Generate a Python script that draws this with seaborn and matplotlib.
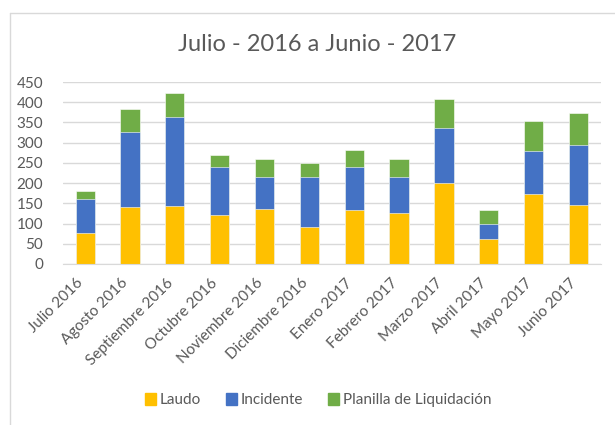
import numpy as np
import pandas as pd
import matplotlib
matplotlib.use("Agg")
import matplotlib.pyplot as plt
import matplotlib.transforms as mtransforms
import seaborn as sns
from matplotlib.lines import Line2D
from matplotlib.patches import Patch

meses = ["Julio 2016", "Agosto 2016", "Septiembre 2016", "Octubre 2016",
         "Noviembre 2016", "Diciembre 2016", "Enero 2017", "Febrero 2017",
         "Marzo 2017", "Abril 2017", "Mayo 2017", "Junio 2017"]
laudo = [76, 142, 144, 120, 135, 91, 134, 125, 200, 62, 174, 145]
incidente = [84, 184, 220, 119, 79, 124, 106, 90, 137, 38, 106, 150]
planilla = [20, 58, 60, 30, 45, 34, 41, 45, 71, 33, 73, 78]

df = pd.DataFrame({"mes": meses, "Laudo": laudo, "Incidente": incidente,
                   "Planilla de Liquidación": planilla})
df["c1"] = df["Laudo"]
df["c2"] = df["c1"] + df["Incidente"]
df["c3"] = df["c2"] + df["Planilla de Liquidación"]

sns.set_style("white")
plt.rcParams["font.family"] = ["Lato", "DejaVu Sans"]

c_laudo = "#FFC000"
c_inc = "#4472C4"
c_pla = "#70AD47"
txt = "#595959"

fig = plt.figure(figsize=(6.15, 4.25), dpi=100)
ax = fig.add_axes([0.102, 0.379, 0.875, 0.428])

# barras apiladas: se dibujan los acumulados de mayor a menor
for col, color in [("c3", c_pla), ("c2", c_inc), ("c1", c_laudo)]:
    sns.barplot(data=df, x="mes", y=col, color=color, width=0.43,
                edgecolor="white", linewidth=0.4, saturation=1, ax=ax)

ax.set_ylim(0, 450)
ax.set_yticks(np.arange(0, 451, 50))
ax.yaxis.grid(True, color="#D9D9D9", linewidth=1)
ax.set_axisbelow(True)
for s in ["top", "right", "left"]:
    ax.spines[s].set_visible(False)
ax.spines["bottom"].set_color("#D9D9D9")
ax.set_xlabel("")
ax.set_ylabel("")
ax.tick_params(axis="y", length=0, labelsize=11, labelcolor=txt, pad=14)
ax.tick_params(axis="x", length=0, labelsize=11, labelcolor=txt, pad=8)
ax.set_xticks(range(len(meses)))
ax.set_xticklabels(meses, rotation=45, ha="right", rotation_mode="anchor")
ax.set_xlim(-0.5, len(meses) - 0.5)
shift = mtransforms.ScaledTranslation(-9 / 100, -1 / 100, fig.dpi_scale_trans)
for lab in ax.get_xticklabels():
    lab.set_transform(lab.get_transform() + shift)

fig.text(0.515, 0.895, "Julio - 2016 a Junio - 2017", ha="center", va="center",
         fontsize=17, color=txt)

handles = [Patch(color=c_laudo), Patch(color=c_inc), Patch(color=c_pla)]
fig.legend(handles, ["Laudo", "Incidente", "Planilla de Liquidación"],
           loc="center", bbox_to_anchor=(0.517, 0.058), ncol=3, frameon=False,
           fontsize=11, labelcolor=txt, handlelength=0.75, handleheight=0.75,
           handletextpad=0.25, columnspacing=1.6)

# marco del gráfico
fig.add_artist(Line2D([10 / 615, 10 / 615], [0, 1 - 13 / 425], color="#D9D9D9", lw=1))
fig.add_artist(Line2D([10 / 615, 1], [1 - 13 / 425, 1 - 13 / 425], color="#D9D9D9", lw=1))

fig.savefig("out.png", dpi=100)
